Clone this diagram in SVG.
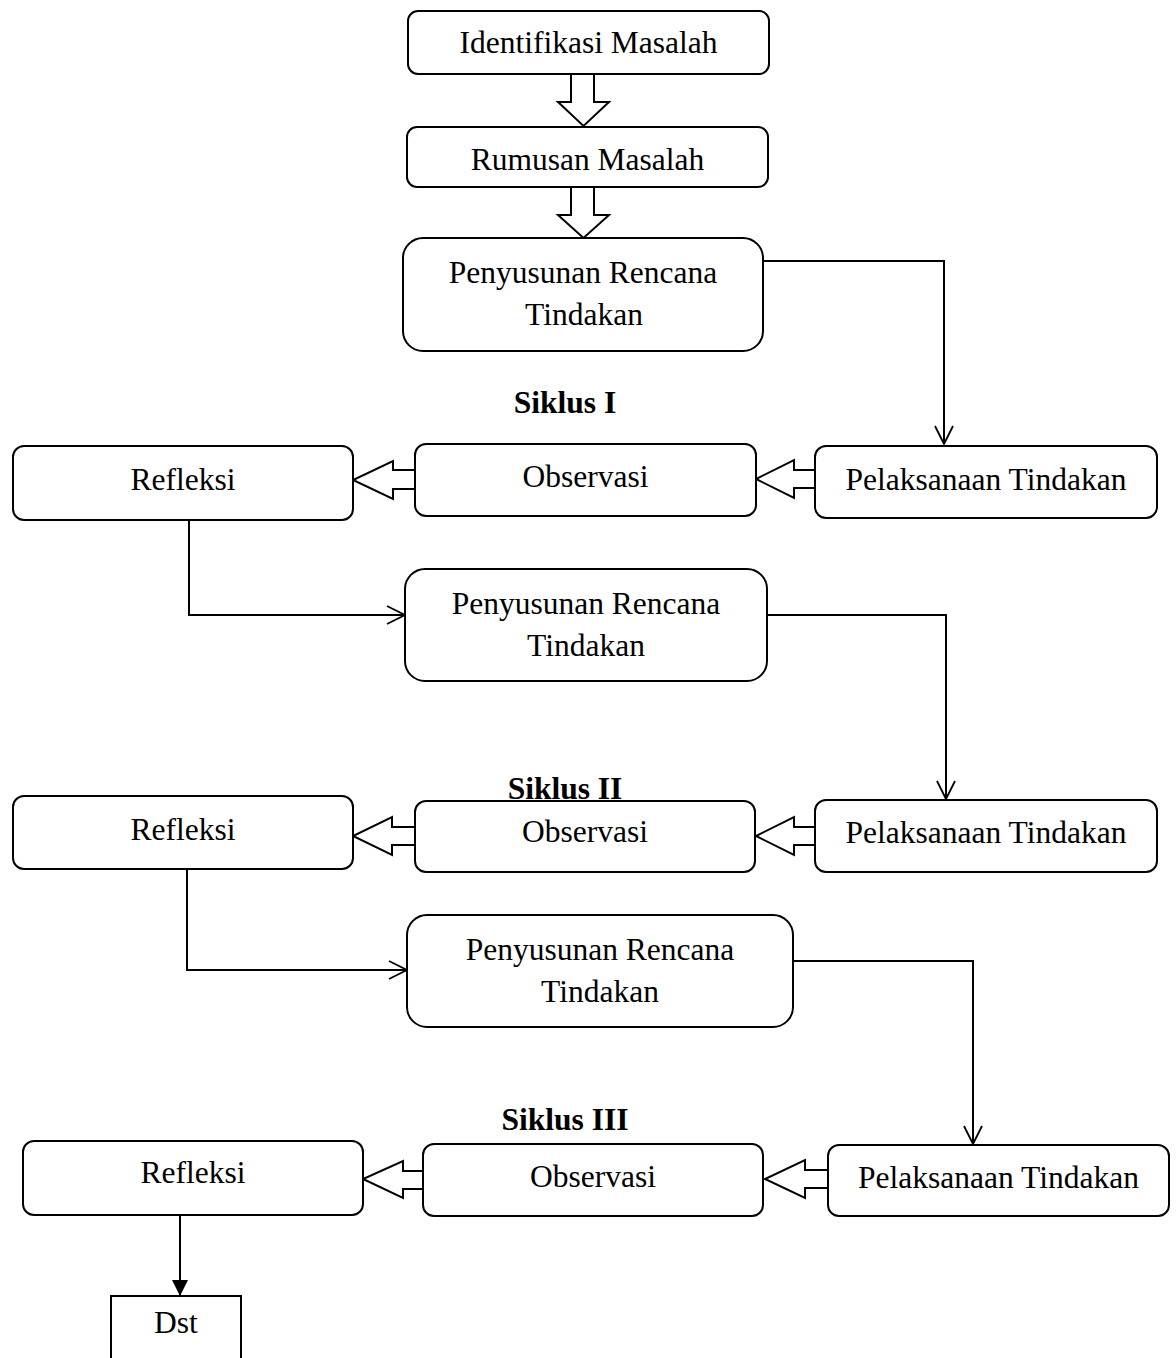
<svg xmlns="http://www.w3.org/2000/svg" width="1176" height="1358" viewBox="0 0 1176 1358">
<defs>
<style>
.box{fill:#fff;stroke:#000;stroke-width:2}
.blk{fill:#fff;stroke:#000;stroke-width:2;stroke-linejoin:miter}
.ln{fill:none;stroke:#000;stroke-width:2}
.t{font-family:"Liberation Serif","Times New Roman",serif;font-size:31.5px;fill:#000;text-anchor:middle}
.b{font-weight:bold}
</style>
<marker id="open" markerWidth="20" markerHeight="20" viewBox="0 0 20 20" refX="19" refY="10" orient="auto" markerUnits="userSpaceOnUse">
<path d="M1,1 L19,10 L1,19" fill="none" stroke="#000" stroke-width="1.8"/>
</marker>
<marker id="fill" markerWidth="16" markerHeight="16" viewBox="0 0 16 16" refX="16" refY="8" orient="auto" markerUnits="userSpaceOnUse">
<path d="M0,0 L16,8 L0,16 Z" fill="#000"/>
</marker>
</defs>
<rect width="1176" height="1358" fill="#fff"/>

<g id="connectors">
<polyline class="ln" points="763,261 944,261 944,444" marker-end="url(#open)"/>
<polyline class="ln" points="189,520 189,615 405,615" marker-end="url(#open)"/>
<polyline class="ln" points="767,615 946,615 946,799" marker-end="url(#open)"/>
<polyline class="ln" points="187,869 187,970 407,970" marker-end="url(#open)"/>
<polyline class="ln" points="793,961 973,961 973,1144" marker-end="url(#open)"/>
<line class="ln" x1="180" y1="1215" x2="180" y2="1296" marker-end="url(#fill)"/>
<polygon class="blk" points="571,74 594,74 594,102 609,102 583.5,126 558,102 571,102"/>
<polygon class="blk" points="571,187 594,187 594,215 609,215 583.5,238 558,215 571,215"/>
<polygon class="blk" points="415,470 393,470 393,461 353,480 393,499 393,489 415,489"/>
<polygon class="blk" points="815,470 794,470 794,460 756,479 794,498 794,488 815,488"/>
<polygon class="blk" points="415,827 392,827 392,817 353,836 392,855 392,845 415,845"/>
<polygon class="blk" points="815,827 794,827 794,817 756,836 794,855 794,845 815,845"/>
<polygon class="blk" points="423,1171 403,1171 403,1161 363,1179 403,1198 403,1189 423,1189"/>
<polygon class="blk" points="828,1170 805,1170 805,1160 765,1179 805,1198 805,1188 828,1188"/>
</g>

<g id="identifikasi">
<rect class="box" x="408" y="11" width="361" height="63" rx="10"/>
<text class="t" x="588.5" y="53">Identifikasi Masalah</text>
</g>
<g id="rumusan">
<rect class="box" x="407" y="127" width="361" height="60" rx="10"/>
<text class="t" x="587.5" y="170">Rumusan Masalah</text>
</g>
<g id="rencana1">
<rect class="box" x="403" y="238" width="360" height="113" rx="20"/>
<text class="t" x="583" y="283">Penyusunan Rencana</text>
<text class="t" x="584" y="325">Tindakan</text>
</g>

<g id="siklus1"><text class="t b" x="565" y="413">Siklus I</text></g>
<g id="refleksi1">
<rect class="box" x="13" y="446" width="340" height="74" rx="11"/>
<text class="t" x="183" y="490">Refleksi</text>
</g>
<g id="observasi1">
<rect class="box" x="415" y="444" width="341" height="72" rx="11"/>
<text class="t" x="585.5" y="487">Observasi</text>
</g>
<g id="pelaksanaan1">
<rect class="box" x="815" y="446" width="342" height="72" rx="11"/>
<text class="t" x="986" y="490">Pelaksanaan Tindakan</text>
</g>

<g id="rencana2">
<rect class="box" x="405" y="569" width="362" height="112" rx="20"/>
<text class="t" x="586" y="614">Penyusunan Rencana</text>
<text class="t" x="586" y="656">Tindakan</text>
</g>

<g id="refleksi2">
<rect class="box" x="13" y="796" width="340" height="73" rx="11"/>
<text class="t" x="183" y="840">Refleksi</text>
</g>
<g id="observasi2">
<rect class="box" x="415" y="801" width="340" height="71" rx="11"/>
<text class="t" x="585" y="842">Observasi</text>
</g>
<g id="pelaksanaan2">
<rect class="box" x="815" y="800" width="342" height="72" rx="11"/>
<text class="t" x="986" y="843">Pelaksanaan Tindakan</text>
</g>
<g id="siklus2"><text class="t b" x="565" y="799">Siklus II</text></g>

<g id="rencana3">
<rect class="box" x="407" y="915" width="386" height="112" rx="20"/>
<text class="t" x="600" y="960">Penyusunan Rencana</text>
<text class="t" x="600" y="1002">Tindakan</text>
</g>

<g id="siklus3"><text class="t b" x="565" y="1130">Siklus III</text></g>
<g id="refleksi3">
<rect class="box" x="23" y="1141" width="340" height="74" rx="11"/>
<text class="t" x="193" y="1183">Refleksi</text>
</g>
<g id="observasi3">
<rect class="box" x="423" y="1144" width="340" height="72" rx="11"/>
<text class="t" x="593" y="1187">Observasi</text>
</g>
<g id="pelaksanaan3">
<rect class="box" x="828" y="1145" width="341" height="71" rx="11"/>
<text class="t" x="998.5" y="1188">Pelaksanaan Tindakan</text>
</g>

<g id="dst">
<rect class="box" x="111" y="1296" width="130" height="80"/>
<text class="t" x="176" y="1333">Dst</text>
</g>
</svg>
